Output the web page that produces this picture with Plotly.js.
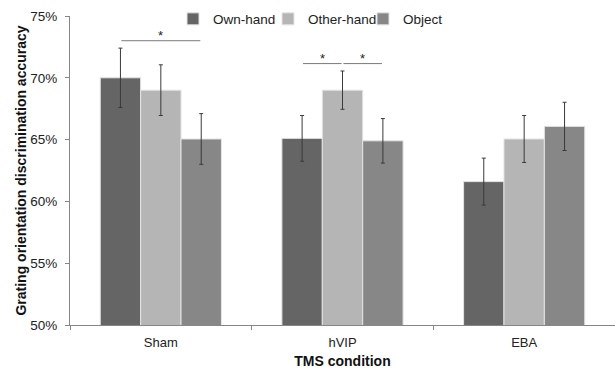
<!DOCTYPE html>
<html>
<head>
<meta charset="utf-8">
<script src="https://cdn.plot.ly/plotly-3.0.1.min.js"></script>
<style>html,body{margin:0;padding:0;background:#fff;}#chart{width:615px;height:369px;}</style>
</head>
<body>
<div id="chart"></div>
<script>
// ---- data ----
const conditions = ["Sham", "hVIP", "EBA"];
const seriesNames = ["Own-hand", "Other-hand", "Object"];
const ownHand = [70.0, 65.1, 61.6];
const otherHand = [69.0, 69.0, 65.05];
const objectVals = [65.05, 64.9, 66.07];
const ownHandErr = [2.4, 1.85, 1.9];
const otherHandErr = [2.05, 1.55, 1.9];
const objectErr = [2.05, 1.8, 1.95];
const yTickVals = [50, 55, 60, 65, 70, 75];
const yTickText = ["50%", "55%", "60%", "65%", "70%", "75%"];
// significant comparisons: [condition index, series a, series b]
const sigPairs = [[0, 0, 2], [1, 0, 1], [1, 1, 2]];
const sigLabel = "*";

// ---- style ----
const colors = ["#656565", "#b5b5b5", "#878787"];
const font = "Liberation Sans, Arial, sans-serif";
const values = [ownHand, otherHand, objectVals];
const errs = [ownHandErr, otherHandErr, objectErr];
const bargap = 0.333;
const nSeries = values.length;
const barW = (1 - bargap) / nSeries;

const traces = values.map((v, i) => ({
  type: "bar",
  name: seriesNames[i],
  x: conditions,
  y: v,
  marker: {color: colors[i], line: {color: "#e4e4e4", width: 1}},
  error_y: {type: "data", array: errs[i], visible: true, color: "#3a3a3a", thickness: 1, width: 2}
}));

// significance brackets derived from bar offsets and error-bar tops
const shapes = [];
const annotations = [];
const levelByCat = {};
sigPairs.forEach(([c, a, b]) => {
  let top = 0;
  sigPairs.filter(p => p[0] === c).forEach(p => {
    for (let s = p[1]; s <= p[2]; s++) top = Math.max(top, values[s][c] + errs[s][c]);
  });
  levelByCat[c] = top + 0.6;
});
sigPairs.forEach(([c, a, b]) => {
  const center = s => c + (s - (nSeries - 1) / 2) * barW;
  const x0 = center(a) + 0.005, x1 = center(b) - 0.005;
  const yv = levelByCat[c];
  shapes.push({type: "line", xref: "x", yref: "y", x0: x0, x1: x1, y0: yv, y1: yv,
    line: {color: "#7a7a7a", width: 1}});
  annotations.push({xref: "x", yref: "y", x: (x0 + x1) / 2, y: yv, text: sigLabel, showarrow: false,
    yanchor: "bottom", yshift: -4, font: {family: font, size: 13, color: "#222"}});
});

const layout = {
  width: 615, height: 369,
  margin: {l: 70, r: 0, t: 16, b: 44},
  paper_bgcolor: "#fff", plot_bgcolor: "#fff",
  font: {family: font, size: 13, color: "#222"},
  barmode: "group",
  bargap: bargap, bargroupgap: 0,
  showlegend: true,
  legend: {orientation: "h", x: 0.189, xanchor: "left", y: 0.99, yanchor: "middle",
    entrywidth: 50, entrywidthmode: "pixels",
    font: {family: font, size: 13.5, color: "#222"}, itemwidth: 30, bgcolor: "rgba(0,0,0,0)"},
  xaxis: {
    type: "category", range: [-0.5, 2.5], showline: true, linecolor: "#868686", linewidth: 1,
    ticks: "outside", tickson: "boundaries", ticklen: 4, tickcolor: "#868686",
    showgrid: false, zeroline: false, ticklabelstandoff: 5,
    title: {text: "<b>TMS condition</b>", font: {family: font, size: 14, color: "#111"}, standoff: 8},
    tickfont: {family: font, size: 13, color: "#222"}
  },
  yaxis: {
    range: [50, 75], tickvals: yTickVals, ticktext: yTickText,
    showline: true, linecolor: "#868686", linewidth: 1,
    ticks: "outside", ticklen: 4, tickcolor: "#868686",
    showgrid: false, zeroline: false, ticklabelstandoff: 5,
    title: {text: "<b>Grating orientation discrimination accuracy</b>", font: {family: font, size: 14, color: "#111"}, standoff: 0},
    tickfont: {family: font, size: 13.5, color: "#222"}
  },
  shapes: shapes,
  annotations: annotations
};

Plotly.newPlot("chart", traces, layout, {displayModeBar: false, staticPlot: true});
</script>
</body>
</html>
